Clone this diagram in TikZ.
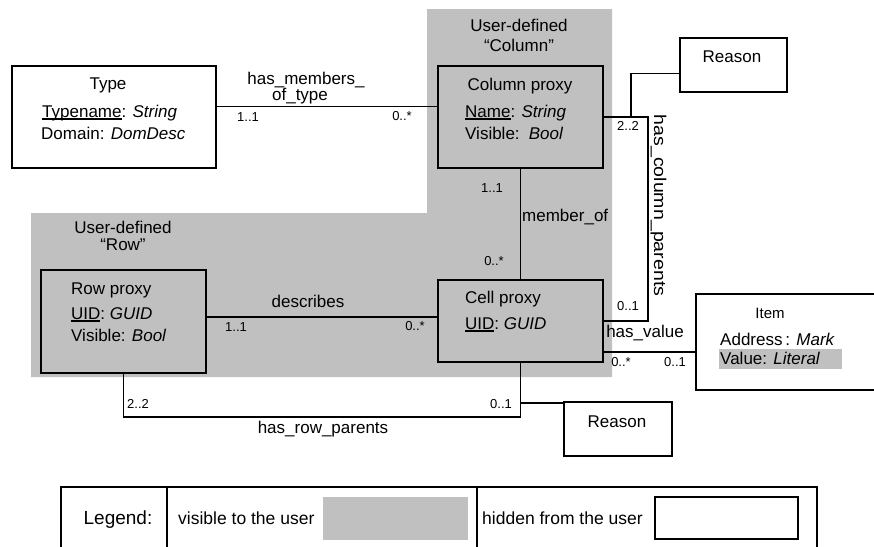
\documentclass[tikz,border=0pt]{standalone}
\usepackage{fontspec}
\usepackage{graphicx}
\setmainfont{Liberation Sans}
\newlength\ulw
\newcommand\myul[1]{\settowidth{\ulw}{#1}\rlap{\rule[-2.4pt]{\ulw}{1.7pt}}#1}
\definecolor{bgshade}{HTML}{C0C0C0}
\begin{document}
\begin{tikzpicture}[x=1pt,y=-1pt,
  box/.style={draw=black, line width=1.6pt, inner sep=0, anchor=north west},
  graybox/.style={box, fill=bgshade},
  conn/.style={line width=1.3pt},
  txt/.style={inner sep=0, font=\fontsize{17}{19}\selectfont},
  card/.style={inner sep=0, font=\fontsize{13}{14}\selectfont},
  leg/.style={inner sep=0, font=\fontsize{17.5}{20}\selectfont}
]
\useasboundingbox (0,0) rectangle (874,546);
\clip (0,0) rectangle (874,546);
% shaded region
\fill[bgshade] (31,213) -- (427,213) -- (427,9) -- (612,9) -- (612,377) -- (31,377) -- cycle;
% boxes
\node[box, minimum width=204, minimum height=102] (type) at (11,65) {};
\node[graybox, minimum width=165, minimum height=102] (col) at (437,65) {};
\node[graybox, minimum width=165, minimum height=82] (cell) at (437,279) {};
\node[graybox, minimum width=165, minimum height=103] (row) at (40,269) {};
\node[box, minimum width=107, minimum height=54] (reasonA) at (679,37) {};
\node[box, minimum width=108, minimum height=54] (reasonB) at (563,401) {};
\node[box, minimum width=200, minimum height=96] (item) at (695,293) {};
% group titles
\node[txt] (ucT) at (519,25) {User-defined};
\node[txt] (ucC) at (519,45) {“Column”};
\node[txt] (urT) at (123,227) {User-defined};
\node[txt] (urR) at (123,245) {“Row”};
% Type box text
\node[txt] (typeT) at (108,85) {Type};
\node[txt, anchor=west] (typeA) at (42,113) {\myul{Typename}: \textit{String}};
\node[txt, anchor=west] (typeB) at (41,133) {Domain: \textit{DomDesc}};
% Column proxy text
\node[txt] (colT) at (520,86) {Column proxy};
\node[txt, anchor=west] (colA) at (465,113) {\myul{Name}: \textit{String}};
\node[txt, anchor=west] (colB) at (465,133) {Visible:\, \textit{Bool}};
% Cell proxy text
\node[txt, anchor=west] (cellT) at (465,299) {Cell proxy};
\node[txt, anchor=west] (cellA) at (465,325) {\myul{UID}: \textit{GUID}};
% Row proxy text
\node[txt, anchor=west] (rowT) at (71,290) {Row proxy};
\node[txt, anchor=west] (rowA) at (71,315) {\myul{UID}: \textit{GUID}};
\node[txt, anchor=west] (rowB) at (71,335) {Visible: \textit{Bool}};
% Reason text
\node[txt] (rAT) at (732,57) {Reason};
\node[txt] (rBT) at (617,422) {Reason};
% Item text
\fill[bgshade] (719,349) rectangle (842,369);
\node[txt, font=\fontsize{15}{17}\selectfont] (itemT) at (770,313) {Item};
\node[txt, anchor=west] (itemA) at (720,339) {Address\,: \textit{Mark}};
\node[txt, anchor=west] (itemB) at (720,358) {Value: \textit{Literal}};
% connectors
\draw[conn] ([yshift=10]type.east) -- ([yshift=10]col.west);
\coordinate (cpR) at (648,117);
\coordinate (rb) at (631,117);
\draw[conn] (col.east |- cpR) -- (cpR) -- (cpR |- 0,321) -- (cell.east |- 0,321);
\draw[conn] (rb) |- ([yshift=-9]reasonA.west);
\draw[conn] (col.south) -- (cell.north);
\draw[conn] (row.east |- 0,317) -- (cell.west |- 0,317);
\coordinate (hrp) at (0,417);
\draw[conn] (row.south) |- (hrp -| cell.south) -- (cell.south);
\coordinate (rb2) at (cell.south |- 0,403);
\draw[conn] (rb2) -- (rb2 -| reasonB.west);
\coordinate (hv) at (cell.east |- 0,352);
\draw[conn] (hv) -- (hv -| item.west);
% connector labels
\node[txt] (l1) at (306,80) {has\_members\_};
\node[txt] (l2) at (300,96) {of\_type};
\node[card] (c1) at (248,117) {1..1};
\node[card] (c2) at (402,116) {0..*};
\node[card] (c3) at (628,126) {2..2};
\node[card] (c4) at (492,188) {1..1};
\node[txt, anchor=west] (l3) at (522,217) {member\_of};
\node[card] (c5) at (494,261) {0..*};
\node[card] (c6) at (628,306) {0..1};
\node[txt] (l4) at (645,333) {has\_value};
\node[card] (c7) at (621,362) {0..*};
\node[card] (c8) at (675,362) {0..1};
\node[card] (c9) at (236,327) {1..1};
\node[card] (c10) at (415,326) {0..*};
\node[txt] (l5) at (308,301) {describes};
\node[card] (c11) at (138,404) {2..2};
\node[card] (c12) at (501,404) {0..1};
\node[txt] (l6) at (323,429) {has\_row\_parents};
\node[txt, rotate=-90] (l7) at (658.5,205.5) {\scalebox{1.15}[1]{has\_column\_parents}};
% legend
\draw[line width=1.5pt] (61,548) -- (61,487) -- (817,487) -- (817,548);
\draw[line width=1.3pt] (167,487) -- (167,548);
\draw[line width=1.3pt] (477,487) -- (477,548);
\node[leg, font=\fontsize{19}{21}\selectfont] (lg1) at (118,520) {Legend:};
\node[leg, anchor=west] (lg2) at (178,518) {visible to the user};
\fill[bgshade] (323,497) rectangle (468,540);
\node[leg, anchor=west] (lg3) at (482,518) {hidden from the user};
\draw[line width=1.3pt] (655,497) rectangle (798,539);
\end{tikzpicture}
\end{document}
